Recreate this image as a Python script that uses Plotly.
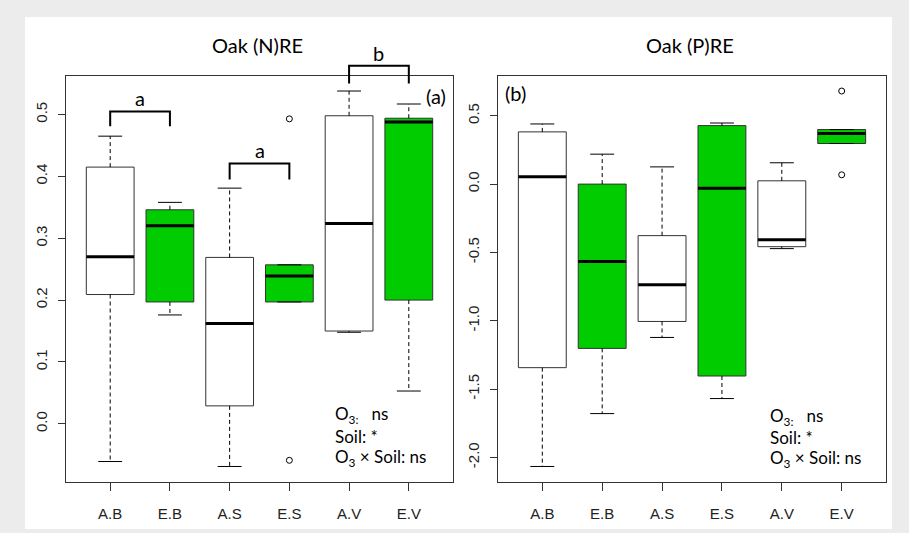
import plotly.graph_objects as go

# ---------------- data ----------------
categories = ["A.B", "E.B", "A.S", "E.S", "A.V", "E.V"]
fills = ["white", "#00cc00", "white", "#00cc00", "white", "#00cc00"]

# Oak (N)RE  : lower whisker, Q1, median, Q3, upper whisker
n_low = [-0.061, 0.176, -0.069, 0.197, 0.148, 0.053]
n_q1 = [0.209, 0.197, 0.029, 0.197, 0.150, 0.200]
n_med = [0.270, 0.320, 0.162, 0.239, 0.324, 0.488]
n_q3 = [0.415, 0.346, 0.269, 0.257, 0.498, 0.494]
n_high = [0.465, 0.358, 0.381, 0.257, 0.538, 0.517]
n_out_x = ["E.S", "E.S"]
n_out_y = [0.493, -0.059]

# Oak (P)RE
p_low = [-2.066, -1.679, -1.122, -1.569, -0.472, 0.297]
p_q1 = [-1.343, -1.202, -1.005, -1.404, -0.458, 0.297]
p_med = [0.053, -0.567, -0.737, -0.031, -0.407, 0.370]
p_q3 = [0.382, 0.000, -0.377, 0.428, 0.024, 0.399]
p_high = [0.440, 0.219, 0.126, 0.447, 0.156, 0.399]
p_out_x = ["E.V", "E.V"]
p_out_y = [0.681, 0.068]

n_ticks = [0.0, 0.1, 0.2, 0.3, 0.4, 0.5]
n_ticktext = ["0.0", "0.1", "0.2", "0.3", "0.4", "0.5"]
p_ticks = [-2.0, -1.5, -1.0, -0.5, 0.0, 0.5]
p_ticktext = ["-2.0", "-1.5", "-1.0", "-0.5", "0.0", "0.5"]

# significance brackets on panel (a): (cat1, cat2, top value, leg bottom value, letter)
brackets = [("A.B", "E.B", 0.505, 0.481, "a"),
            ("A.S", "E.S", 0.421, 0.395, "a"),
            ("A.V", "E.V", 0.579, 0.550, "b")]

# ---------------- layout helpers ----------------
W, H = 909, 533
def px(xp):
    return xp / W
def py(yp):
    return 1 - yp / H

xdomL = [px(66), px(453)]
xdomR = [px(498), px(886)]
ydom = [py(481.5), py(76)]

def r_range(*arrs):
    vals = [v for a in arrs for v in a]
    lo, hi = min(vals), max(vals)
    pad = 0.04 * (hi - lo)
    return [lo - pad, hi + pad]

rngN = r_range(n_low, n_high, n_out_y)
rngP = r_range(p_low, p_high, p_out_y)
xr = [0.26, 6.74]
pos = {c: i + 1 for i, c in enumerate(categories)}

def to_paper(v, rng):
    return ydom[0] + (v - rng[0]) / (rng[1] - rng[0]) * (ydom[1] - ydom[0])

fig = go.Figure()
shapes = []

# white panel on gray background
shapes.append(dict(type="rect", xref="paper", yref="paper",
                   x0=px(25), x1=px(892), y0=py(529), y1=py(17),
                   fillcolor="white", line=dict(width=0), layer="below"))

EDGE = "#333333"
hw, cw = 0.4, 0.2

def add_boxes(xa, ya, low, q1, med, q3, high):
    for i, c in enumerate(categories):
        x = pos[c]
        shapes.append(dict(type="rect", xref=xa, yref=ya, x0=x - hw, x1=x + hw,
                           y0=q1[i], y1=q3[i], fillcolor=fills[i],
                           line=dict(color=EDGE, width=1)))
        shapes.append(dict(type="line", xref=xa, yref=ya, x0=x - hw, x1=x + hw,
                           y0=med[i], y1=med[i], line=dict(color="black", width=3)))
        if high[i] > q3[i]:
            shapes.append(dict(type="line", xref=xa, yref=ya, x0=x, x1=x,
                               y0=q3[i], y1=high[i],
                               line=dict(color="black", width=1, dash="4px,3px")))
        if low[i] < q1[i]:
            shapes.append(dict(type="line", xref=xa, yref=ya, x0=x, x1=x,
                               y0=q1[i], y1=low[i],
                               line=dict(color="black", width=1, dash="4px,3px")))
        for v in (high[i], low[i]):
            shapes.append(dict(type="line", xref=xa, yref=ya, x0=x - cw, x1=x + cw,
                               y0=v, y1=v, line=dict(color="black", width=1)))

add_boxes("x", "y", n_low, n_q1, n_med, n_q3, n_high)
add_boxes("x2", "y2", p_low, p_q1, p_med, p_q3, p_high)

fig.add_trace(go.Scatter(x=[pos[c] for c in n_out_x], y=n_out_y, mode="markers",
                         xaxis="x", yaxis="y", showlegend=False,
                         marker=dict(symbol="circle-open", size=6,
                                     color="black", line=dict(width=1))))
fig.add_trace(go.Scatter(x=[pos[c] for c in p_out_x], y=p_out_y, mode="markers",
                         xaxis="x2", yaxis="y2", showlegend=False,
                         marker=dict(symbol="circle-open", size=6,
                                     color="black", line=dict(width=1))))

annotations = []
LFONT = "Lato, 'Open Sans', sans-serif"

for c1, c2, top, bot, letter in brackets:
    x1, x2 = pos[c1], pos[c2]
    yt, yb = to_paper(top, rngN), to_paper(bot, rngN)
    shapes.append(dict(type="path", xref="x", yref="paper",
                       path=f"M {x1},{yb} L {x1},{yt} L {x2},{yt} L {x2},{yb}",
                       line=dict(color="black", width=2)))
    annotations.append(dict(x=(x1 + x2) / 2, y=yt, xref="x", yref="paper",
                            text=letter, showarrow=False, xanchor="center",
                            yanchor="bottom", yshift=-1,
                            font=dict(family=LFONT, size=20, color="black")))

def label(x, y, text, size=20):
    return dict(x=px(x), y=py(y), xref="paper", yref="paper", text=text,
                showarrow=False, xanchor="center", yanchor="middle",
                font=dict(family=LFONT, size=size, color="black"))

# titles and panel labels
annotations += [
    label(257, 45, "Oak (N)RE"),
    label(690, 45, "Oak (P)RE"),
    label(436, 96, "(a)"),
    label(515, 93, "(b)"),
]

stat_lines = ["O<sub>3:</sub>\u00a0\u00a0\u00a0ns", "Soil: *", "O<sub>3</sub> × Soil: ns"]
for x0, ys in ((333, (415, 436, 458)), (768, (417, 437, 459))):
    for t, yy in zip(stat_lines, ys):
        annotations.append(dict(x=px(x0), y=py(yy), xref="paper", yref="paper",
                                text=t, showarrow=False, xanchor="left", yanchor="middle",
                                font=dict(family=LFONT, size=17, color="black")))

TFONT = dict(family="'Liberation Sans', Arial, sans-serif", size=15, color="#222222")
axis_common = dict(showgrid=False, zeroline=False, showline=True, mirror=True,
                   linecolor=EDGE, linewidth=1, ticks="outside", tickcolor=EDGE,
                   tickfont=TFONT)

fig.update_layout(
    width=W, height=H, margin=dict(l=0, r=0, t=0, b=0),
    paper_bgcolor="#ececec", plot_bgcolor="white", showlegend=False,
    xaxis=dict(domain=xdomL, range=xr, anchor="y", tickvals=list(range(1, 7)),
               ticktext=categories, ticklen=8, ticklabelstandoff=10, **axis_common),
    yaxis=dict(domain=ydom, range=rngN, anchor="x", tickvals=n_ticks,
               ticktext=n_ticktext, tickangle=-90, ticklen=7, ticklabelstandoff=5,
               **axis_common),
    xaxis2=dict(domain=xdomR, range=xr, anchor="y2", tickvals=list(range(1, 7)),
                ticktext=categories, ticklen=8, ticklabelstandoff=10, **axis_common),
    yaxis2=dict(domain=ydom, range=rngP, anchor="x2", tickvals=p_ticks,
                ticktext=p_ticktext, tickangle=-90, ticklen=7, ticklabelstandoff=5,
                **axis_common),
    shapes=shapes, annotations=annotations,
)

fig.write_html("out.html", config={"displayModeBar": False},
               post_script="document.body.style.margin='0';document.body.style.padding='0';")
